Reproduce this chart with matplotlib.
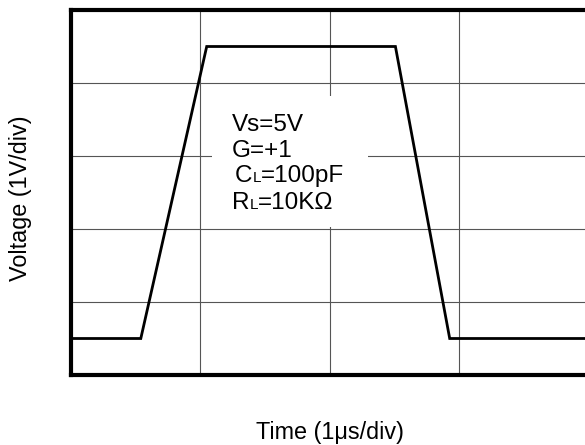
import matplotlib
matplotlib.use('Agg')
import matplotlib.pyplot as plt
from matplotlib.patches import Rectangle

plt.rcParams['font.family'] = ['Liberation Sans', 'DejaVu Sans']

# waveform, in divisions (x: 1us/div, y: 1V/div)
time_div = [0.0, 0.54, 1.05, 2.51, 2.93, 4.0]
volt_div = [0.5, 0.5, 4.5, 4.5, 0.5, 0.5]

# conditions text, (piece, small?) per line
cond_lines = [
    [("Vs=5V", False)],
    [("G=+1", False)],
    [("C", False), ("L", True), ("=100pF", False)],
    [("R", False), ("L", True), ("=10K\u03a9", False)],
]
cond_x = [1.245, 1.245, 1.27, 1.245]
cond_y = [3.34, 2.99, 2.64, 2.27]

fig = plt.figure(figsize=(5.85, 4.45), dpi=100)
ax = fig.add_axes([71 / 585, 70 / 445, 517 / 585, 365 / 445])
ax.set_xlim(0, 4)
ax.set_ylim(0, 5)
ax.set_xticks([1, 2, 3])
ax.set_yticks([1, 2, 3, 4])
ax.tick_params(length=0, labelbottom=False, labelleft=False)
ax.grid(True, color='#555555', lw=0.8)
ax.set_axisbelow(True)
for sp in ax.spines.values():
    sp.set_linewidth(3)

# white patch behind the conditions text
ax.add_patch(Rectangle((1.09, 2.03), 1.21, 1.79, facecolor='white',
                       edgecolor='none', zorder=1.5))

ax.plot(time_div, volt_div, color='black', lw=2, zorder=3,
        solid_joinstyle='miter')

r = fig.canvas.get_renderer()
for parts, x, y in zip(cond_lines, cond_x, cond_y):
    dx = 0
    for s, small in parts:
        t = ax.annotate(s, (x, y), xytext=(dx, 0), textcoords='offset pixels',
                        fontsize=11 if small else 17.5, va='baseline',
                        ha='left', zorder=4)
        dx += t.get_window_extent(r).width

fig.text(21 / 585, 1 - 198 / 445, "Voltage (1V/div)", rotation=90,
         fontsize=16.8, ha='center', va='center')
fig.text(330 / 585, 1 - 433 / 445, "Time (1\u03bcs/div)",
         fontsize=16.8, ha='center', va='center')

fig.savefig('out.png', dpi=100)
